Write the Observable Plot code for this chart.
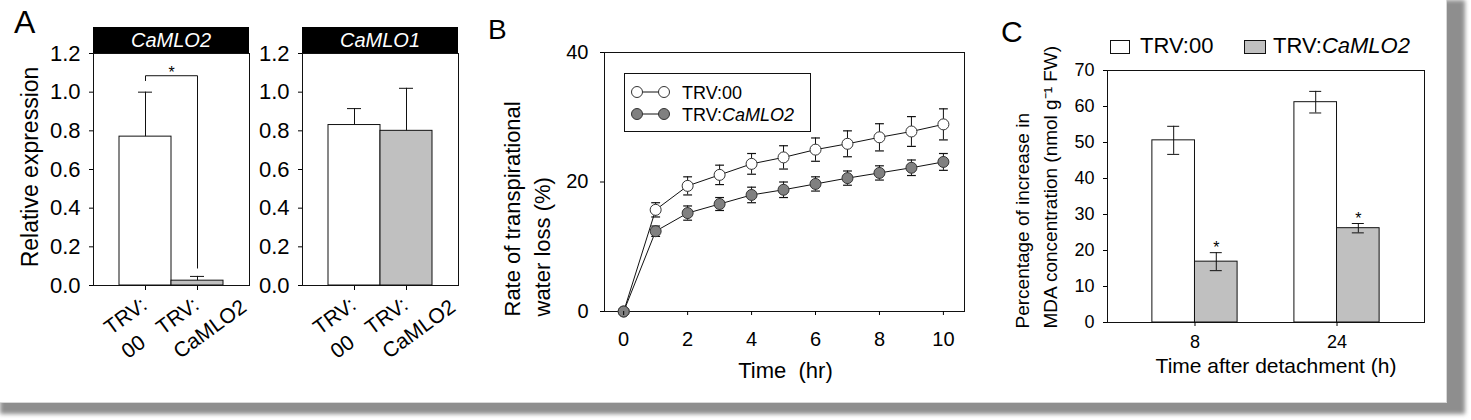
<!DOCTYPE html>
<html><head><meta charset="utf-8">
<script src="https://cdn.jsdelivr.net/npm/d3@7"></script>
<script src="https://cdn.jsdelivr.net/npm/@observablehq/plot@0.6"></script>
<style>
body{margin:0;background:#fff;font-family:"Liberation Sans",Arial,Helvetica,sans-serif;}
#shadow{position:absolute;left:0;top:0;width:1465px;height:414px;background:#8e8e8e;filter:blur(2px);}
#fig{position:absolute;left:0;top:0;width:1446px;height:402px;background:#fff;border-right:1px solid #d8d8d8;border-bottom:1px solid #d8d8d8;overflow:visible;}
.abs{position:absolute;top:0;}
.letter{position:absolute;line-height:1;color:#000;}
.hdr{position:absolute;background:#000;color:#fff;font-style:italic;font-size:20px;text-align:center;line-height:26px;height:26px;}
</style></head><body><div id="shadow"></div><div id="fig"></div>
<script>
const FONT = '"Liberation Sans", Arial, Helvetica, sans-serif';

// ---------- Panel A data ----------
const aCategories = ["TRV:00", "TRV:CaMLO2"];
const aTickLabels = ["TRV:\n00", "TRV:\nCaMLO2"];
const aGenes = ["CaMLO2", "CaMLO1"];
const camlo2Mean = [0.77, 0.025];
const camlo2Err = [0.23, 0.022];
const camlo1Mean = [0.83, 0.80];
const camlo1Err = [0.085, 0.22];
const aYTicks = [0, 0.2, 0.4, 0.6, 0.8, 1.0, 1.2];
const aYTitle = "Relative expression";
const bracketCats = ["TRV:00", "TRV:00", "TRV:CaMLO2", "TRV:CaMLO2"];
const bracketYs = [1.06, 1.085, 1.085, 0.09];
const bracketStar = "*";

// ---------- Panel B data ----------
const hours = [0, 1, 2, 3, 4, 5, 6, 7, 8, 9, 10];
const trv00Loss = [0, 15.7, 19.4, 21.1, 22.8, 23.8, 25.0, 25.9, 26.9, 27.8, 28.9];
const trv00Err  = [0, 1.1, 1.4, 1.5, 1.6, 1.8, 1.8, 2.0, 2.1, 2.3, 2.4];
const trvMloLoss = [0, 12.4, 15.2, 16.6, 18.0, 18.8, 19.7, 20.6, 21.4, 22.2, 23.1];
const trvMloErr  = [0, 0.8, 1.1, 1.0, 1.2, 1.2, 1.1, 1.1, 1.1, 1.2, 1.3];
const bYTicks = [0, 20, 40];
const bXTicks = [0, 2, 4, 6, 8, 10];
const bYTitle = "Rate of transpirational\nwater loss (%)";
const bXTitle = "Time\u00a0 (hr)";

// ---------- Panel C data ----------
const mdaTimes = [8, 24];
const mdaTrv00 = [50.6, 61.2];
const mdaTrv00Err = [3.9, 3.0];
const mdaTrvMlo = [16.9, 26.2];
const mdaTrvMloErr = [2.5, 1.3];
const mdaStars = ["*", "*"];
const cYTicks = [0, 10, 20, 30, 40, 50, 60, 70];
const cYTitle = "Percentage of increase in\nMDA concentration (nmol g\u207B\u00B9 FW)";
const cXTitle = "Time after detachment (h)";

// ---------- styles ----------
const seriesNames = ["TRV:00", "TRV:CaMLO2"];
const barFills = ["white", "#c0c0c0"];
const dotFills = ["white", "#808080"];
const INK = "#111";

const fig = document.getElementById("fig");
function place(el, left) { el.classList.add("abs"); el.style.left = left + "px"; fig.appendChild(el); }

// ---------- Panel A ----------
function panelA(means, errs, withTitle, withBracket) {
  const data = aCategories.map((c, i) => ({cat: c, label: aTickLabels[i], v: means[i], e: errs[i]}));
  const bracket = bracketCats.map((c, i) => ({cat: c, y: bracketYs[i]}));
  const marks = [
    Plot.barY(data, {x: "cat", y: "v", fill: "cat", stroke: INK, strokeWidth: 1}),
    Plot.ruleX(data, {x: "cat", y1: "v", y2: d => d.v + d.e, stroke: INK}),
    Plot.tickY(data, {x: "cat", y: d => d.v + d.e, insetLeft: 19, insetRight: 19, stroke: INK}),
    Plot.axisY({ticks: aYTicks, tickFormat: d3.format(".1f"), tickSize: 4, tickPadding: 9, fontSize: 22, label: null}),
    Plot.axisX({tickSize: 5, tickFormat: () => "", label: null}),
    Plot.text(data, {x: "cat", text: "label", frameAnchor: "bottom", rotate: -36, textAnchor: "start",
      lineAnchor: "top", lineHeight: 1.4, dx: -47, dy: 33, fontSize: 21}),
    Plot.frame({stroke: INK})
  ];
  if (withTitle) marks.push(Plot.text([aYTitle], {text: d => d, frameAnchor: "left", rotate: -90,
    textAnchor: "middle", lineAnchor: "top", dx: -71.5, dy: -2.5, fontSize: 23}));
  if (withBracket) {
    marks.push(Plot.line(bracket, {x: "cat", y: "y", stroke: INK, strokeWidth: 1}));
    marks.push(Plot.text([bracketStar], {x: () => aCategories[0], y: () => bracketYs[1], text: d => d,
      dx: 26, dy: -3, fontSize: 16}));
  }
  return Plot.plot({
    width: 260, height: 400, marginLeft: 93, marginRight: 11, marginTop: 53, marginBottom: 115,
    style: {background: "transparent", fontFamily: FONT, fontSize: "22px", color: "#000", overflow: "visible"},
    x: {domain: aCategories, paddingInner: 0, paddingOuter: 0.5, round: false},
    y: {domain: [0, 1.2]},
    color: {domain: aCategories, range: barFills},
    marks
  });
}
place(panelA(camlo2Mean, camlo2Err, true, true), 0);
place(panelA(camlo1Mean, camlo1Err, false, false), 209);
[[93, aGenes[0]], [302, aGenes[1]]].forEach(([l, g]) => {
  const d = document.createElement("div"); d.className = "hdr";
  d.style.left = l + "px"; d.style.top = "27px"; d.style.width = "156px"; d.textContent = g;
  fig.appendChild(d);
});

// ---------- Panel B ----------
const bData = [
  ...hours.map((h, i) => ({series: seriesNames[0], h, v: trv00Loss[i], e: trv00Err[i]})),
  ...hours.map((h, i) => ({series: seriesNames[1], h, v: trvMloLoss[i], e: trvMloErr[i]}))
];
const bErr = bData.filter(d => d.e > 0);
const capSymbol = {draw(ctx, size) { const w = Math.sqrt(size) / 2; ctx.moveTo(-w, 0); ctx.lineTo(w, 0); }};
const bMarks = [];
seriesNames.forEach(s => {
  const sd = bData.filter(d => d.series === s);
  const se = bErr.filter(d => d.series === s);
  bMarks.push(
    Plot.line(sd, {x: "h", y: "v", stroke: INK, strokeWidth: 1}),
    Plot.ruleX(se, {x: "h", y1: d => d.v - d.e, y2: d => d.v + d.e, stroke: INK}),
    Plot.dot(se, {x: "h", y: d => d.v + d.e, symbol: capSymbol, r: 5, stroke: INK, strokeWidth: 1.2}),
    Plot.dot(se, {x: "h", y: d => d.v - d.e, symbol: capSymbol, r: 5, stroke: INK, strokeWidth: 1.2}),
    Plot.dot(sd, {x: "h", y: "v", r: 5.5, fill: "series", stroke: "#333", strokeWidth: 1})
  );
});
const plotB = Plot.plot({
  width: 500, height: 400, marginLeft: 124, marginRight: 16, marginTop: 52, marginBottom: 89,
  style: {background: "transparent", fontFamily: FONT, fontSize: "20px", color: "#000", overflow: "visible"},
  x: {domain: [-0.6, 10.66]},
  y: {domain: [0, 40]},
  color: {domain: seriesNames, range: dotFills},
  marks: [
    Plot.frame({stroke: INK}),
    ...bMarks,
    Plot.axisY({ticks: bYTicks, tickSize: 4, tickPadding: 12, fontSize: 20, label: null}),
    Plot.axisX({ticks: bXTicks, tickSize: 4, tickPadding: 16, fontSize: 20, label: null}),
    Plot.text([bYTitle], {text: d => d, frameAnchor: "bottom-left", rotate: -90, textAnchor: "start",
      lineAnchor: "top", lineHeight: 1.36, dx: -106, dy: 5, fontSize: 22}),
    Plot.text([bXTitle], {text: d => d, frameAnchor: "bottom", lineAnchor: "top", dx: 1, dy: 51, fontSize: 22})
  ]
});
place(plotB, 480);

// Panel B legend
(function () {
  const svg = d3.create("svg").attr("width", 188).attr("height", 60)
    .style("position", "absolute").style("left", "624px").style("top", "73px")
    .style("font-family", FONT).style("overflow", "visible");
  svg.append("rect").attr("x", 0.5).attr("y", 0.5).attr("width", 186).attr("height", 58)
    .attr("fill", "white").attr("stroke", INK);
  seriesNames.forEach((s, i) => {
    const cy = 19 + i * 22;
    svg.append("line").attr("x1", 13).attr("x2", 40).attr("y1", cy).attr("y2", cy).attr("stroke", INK);
    [13, 40].forEach(cx => svg.append("circle").attr("cx", cx).attr("cy", cy).attr("r", 5.5)
      .attr("fill", dotFills[i]).attr("stroke", "#333"));
    const t = svg.append("text").attr("x", 58).attr("y", cy + 6.5).attr("font-size", 18);
    const [pre, post] = s.split(":");
    t.append("tspan").text(pre + ":");
    t.append("tspan").attr("font-style", post === "00" ? "normal" : "italic").text(post);
  });
  fig.appendChild(svg.node());
})();

// ---------- Panel C ----------
const cW = 440, cML = 107, cMR = 16;
const bw = d3.scaleBand(mdaTimes, [cML, cW - cMR]).paddingInner(0.4).paddingOuter(0.316).bandwidth();
const cWhite = mdaTimes.map((t, i) => ({t, series: seriesNames[0], v: mdaTrv00[i], e: mdaTrv00Err[i]}));
const cGrey = mdaTimes.map((t, i) => ({t, series: seriesNames[1], v: mdaTrvMlo[i], e: mdaTrvMloErr[i], star: mdaStars[i]}));
const capHalf = 6;
const plotC = Plot.plot({
  width: cW, height: 400, marginLeft: cML, marginRight: cMR, marginTop: 70, marginBottom: 78,
  style: {background: "transparent", fontFamily: FONT, fontSize: "18px", color: "#000", overflow: "visible"},
  x: {domain: mdaTimes, paddingInner: 0.4, paddingOuter: 0.316, round: false},
  y: {domain: [0, 70]},
  color: {domain: seriesNames, range: barFills},
  marks: [
    Plot.barY(cWhite, {x: "t", y: "v", fill: "series", stroke: INK, insetRight: bw / 2}),
    Plot.barY(cGrey, {x: "t", y: "v", fill: "series", stroke: INK, insetLeft: bw / 2}),
    Plot.ruleX(cWhite, {x: "t", y1: d => d.v - d.e, y2: d => d.v + d.e, dx: -bw / 4, stroke: INK}),
    Plot.ruleX(cGrey, {x: "t", y1: d => d.v - d.e, y2: d => d.v + d.e, dx: bw / 4, stroke: INK}),
    Plot.tickY(cWhite, {x: "t", y: d => d.v + d.e, insetLeft: bw / 4 - capHalf, insetRight: 3 * bw / 4 - capHalf, stroke: INK}),
    Plot.tickY(cWhite, {x: "t", y: d => d.v - d.e, insetLeft: bw / 4 - capHalf, insetRight: 3 * bw / 4 - capHalf, stroke: INK}),
    Plot.tickY(cGrey, {x: "t", y: d => d.v + d.e, insetLeft: 3 * bw / 4 - capHalf, insetRight: bw / 4 - capHalf, stroke: INK}),
    Plot.tickY(cGrey, {x: "t", y: d => d.v - d.e, insetLeft: 3 * bw / 4 - capHalf, insetRight: bw / 4 - capHalf, stroke: INK}),
    Plot.text(cGrey, {x: "t", y: d => d.v + d.e, text: "star", dx: bw / 4, dy: -5, fontSize: 16}),
    Plot.frame({stroke: INK}),
    Plot.axisY({ticks: cYTicks, tickSize: 4, tickPadding: 9, fontSize: 18, label: null}),
    Plot.axisX({tickSize: 4, tickPadding: 9, fontSize: 18, label: null}),
    Plot.text([cYTitle], {text: d => d, frameAnchor: "bottom-left", rotate: -90, textAnchor: "start",
      lineAnchor: "top", lineHeight: 1.45, dx: -98, dy: 6, fontSize: 19}),
    Plot.text([cXTitle], {text: d => d, frameAnchor: "bottom", lineAnchor: "top", dx: 10, dy: 36, fontSize: 21})
  ]
});
place(plotC, 1000);

// Panel C legend
(function () {
  const svg = d3.create("svg").attr("width", 320).attr("height", 30)
    .style("position", "absolute").style("left", "1105px").style("top", "34px")
    .style("font-family", FONT).style("overflow", "visible");
  const boxX = [5, 139], textX = [35, 168], boxW = [19, 21];
  seriesNames.forEach((s, i) => {
    svg.append("rect").attr("x", boxX[i] + 0.5).attr("y", 6.5).attr("width", boxW[i]).attr("height", 13)
      .attr("fill", barFills[i]).attr("stroke", INK);
    const t = svg.append("text").attr("x", textX[i]).attr("y", 19).attr("font-size", 22);
    const [pre, post] = s.split(":");
    t.append("tspan").text(pre + ":");
    t.append("tspan").attr("font-style", post === "00" ? "normal" : "italic").text(post);
  });
  fig.appendChild(svg.node());
})();

// Panel letters
[["A", 14, 6, 32], ["B", 488, 16, 28], ["C", 1001, 17, 30]].forEach(([txt, l, t, fs]) => {
  const d = document.createElement("div"); d.className = "letter";
  d.style.left = l + "px"; d.style.top = t + "px"; d.style.fontSize = fs + "px"; d.textContent = txt;
  fig.appendChild(d);
});
</script></body></html>
